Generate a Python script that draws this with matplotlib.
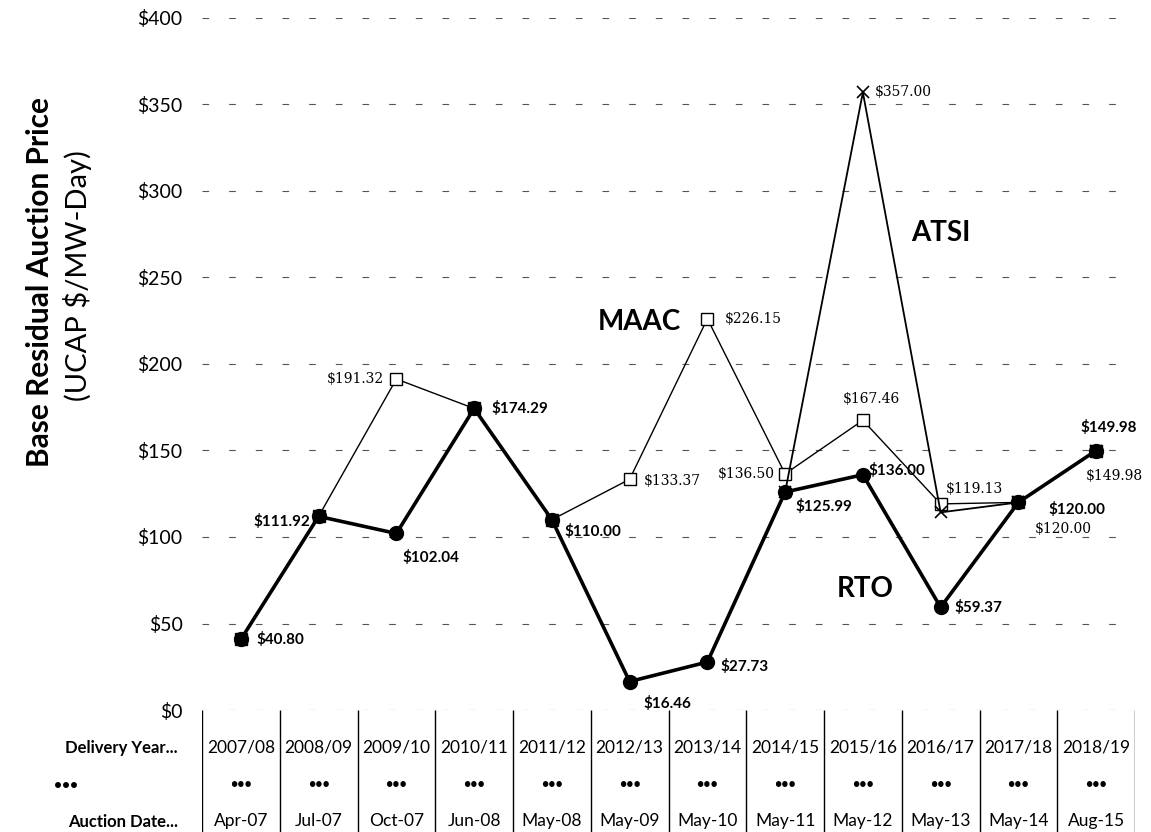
import matplotlib.pyplot as plt

plt.rcParams['font.family'] = ['Lato', 'DejaVu Sans']

# data
years = ['2007/08', '2008/09', '2009/10', '2010/11', '2011/12', '2012/13',
         '2013/14', '2014/15', '2015/16', '2016/17', '2017/18', '2018/19']
auction_dates = ['Apr-07', 'Jul-07', 'Oct-07', 'Jun-08', 'May-08', 'May-09',
                 'May-10', 'May-11', 'May-12', 'May-13', 'May-14', 'Aug-15']
rto = [40.80, 111.92, 102.04, 174.29, 110.00, 16.46, 27.73, 125.99, 136.00, 59.37, 120.00, 149.98]
maac = [40.80, 111.92, 191.32, 174.29, 110.00, 133.37, 226.15, 136.50, 167.46, 119.13, 120.00, 149.98]
atsi_idx = [7, 8, 9, 10, 11]
atsi = [125.99, 357.00, 114.23, 120.00, 149.98]

x = list(range(len(years)))

# label placement (pixel offsets, alignment)
rto_lab = {0: (16, 0, 'left'), 1: (-8, -5, 'right'), 2: (6, -24, 'left'), 3: (17, 0, 'left'),
           4: (13, -12, 'left'), 5: (14, -22, 'left'), 6: (13, -4, 'left'), 7: (10, -14, 'left'),
           8: (6, 4, 'left'), 9: (14, 0, 'left'), 10: (30, -7, 'left'), 11: (13, 23, 'center')}
maac_lab = {2: (-12, 0, 'right'), 5: (14, -2, 'left'), 6: (17, 0, 'left'), 7: (-10, 0, 'right'),
            8: (9, 21, 'center'), 9: (5, 15, 'left'), 10: (16, -27, 'left'), 11: (18, -25, 'center')}
atsi_lab = {8: (12, 0, 'left')}

W, H = 1151, 832
fig = plt.figure(figsize=(W / 100, H / 100), dpi=100)
left = 202 / W
width = 933 / W
ax = fig.add_axes([left, 1 - 710 / H, width, 692 / H])

ax.plot(x, maac, color='black', lw=1.0, marker='s', ms=9, mfc='white', mec='black', mew=1.0, zorder=3)
ax.plot(atsi_idx, atsi, color='black', lw=1.3, marker='x', ms=9, mew=1.2, zorder=3)
ax.plot(x, rto, color='black', lw=2.6, marker='o', ms=10, zorder=4)

for i, (dx, dy, ha) in rto_lab.items():
    ax.annotate(f'${rto[i]:.2f}', (i, rto[i]), xytext=(dx, dy), textcoords='offset pixels',
                ha=ha, va='center', fontsize=11, fontweight='bold', zorder=5)
for i, (dx, dy, ha) in maac_lab.items():
    ax.annotate(f'${maac[i]:.2f}', (i, maac[i]), xytext=(dx, dy), textcoords='offset pixels',
                ha=ha, va='center', fontsize=10, family='DejaVu Serif', zorder=5)
for i, (dx, dy, ha) in atsi_lab.items():
    v = atsi[atsi_idx.index(i)]
    ax.annotate(f'${v:.2f}', (i, v), xytext=(dx, dy), textcoords='offset pixels',
                ha=ha, va='center', fontsize=10, family='DejaVu Serif', zorder=5)

ax.text(5.13, 224, 'MAAC', fontsize=20, fontweight='bold', ha='center', va='center')
ax.text(9.0, 276, 'ATSI', fontsize=20, fontweight='bold', ha='center', va='center')
ax.text(8.03, 70, 'RTO', fontsize=20, fontweight='bold', ha='center', va='center')

ax.set_xlim(-0.5, 11.5)
ax.set_ylim(0, 400)
ax.set_yticks(range(0, 401, 50))
ax.set_yticklabels([f'${v}' for v in range(0, 401, 50)], fontsize=14)
ax.set_xticks([])
ax.tick_params(axis='y', length=0, pad=14)
ax.yaxis.grid(True, color='#555555', lw=0.8, linestyle=(0, (6, 18)))
ax.set_axisbelow(True)
for s in ax.spines.values():
    s.set_visible(False)

fig.text(40 / W, 1 - 282 / H, 'Base Residual Auction Price', rotation=90, ha='center', va='center',
         fontsize=21.5, fontweight='bold')
fig.text(78 / W, 1 - 276 / H, '(UCAP $/MW-Day)', rotation=90, ha='center', va='center', fontsize=21)

# data table under the chart
tax = fig.add_axes([left, 0, width, 122 / H])
tax.set_xlim(-0.5, 11.5)
tax.set_ylim(0, 1)
tax.axis('off')
tax.vlines([i - 0.5 for i in range(len(years) + 1)], 0, 1, color='black', lw=1.0)
for i in x:
    tax.text(i, 0.69, years[i], ha='center', va='center', fontsize=12.5)
    tax.text(i, 0.39, '•••', ha='center', va='center', fontsize=9, fontweight='bold')
    tax.text(i, 0.09, auction_dates[i], ha='center', va='center', fontsize=12.5)

fig.text(178 / W, 1 - 748 / H, 'Delivery Year...', ha='right', va='center', fontsize=12, fontweight='bold')
fig.text(54 / W, 1 - 785 / H, '•••', ha='left', va='center', fontsize=10, fontweight='bold')
fig.text(178 / W, 1 - 822 / H, 'Auction Date...', ha='right', va='center', fontsize=12, fontweight='bold')

fig.savefig('out.png', dpi=100)
